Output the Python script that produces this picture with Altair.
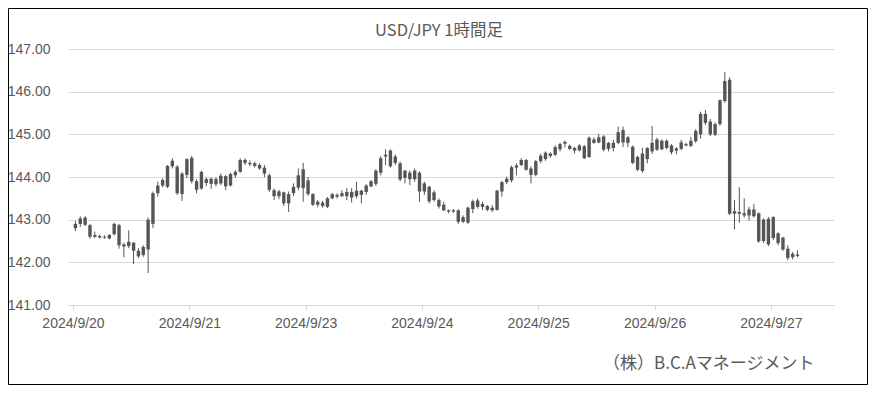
import altair as alt
import pandas as pd

title_text = "USD/JPY 1時間足"
footer_text = "（株）B.C.Aマネージメント"
date_labels = ["2024/9/20", "2024/9/21", "2024/9/23", "2024/9/24",
               "2024/9/25", "2024/9/26", "2024/9/27"]
bars_per_label = 24
n_slots = 156
y_ticks = [141, 142, 143, 144, 145, 146, 147]

opens = [
    142.80, 142.90, 143.05, 142.87, 142.60, 142.62, 142.58, 142.56, 142.66, 142.87,
    142.42, 142.38, 142.46, 142.27, 142.17, 142.30, 142.90, 143.62, 143.80, 143.77,
    144.25, 144.24, 143.60, 144.05, 144.45, 143.90, 143.73, 143.95, 143.84, 143.95,
    143.85, 144.02, 143.80, 144.04, 144.12, 144.40, 144.33, 144.32, 144.28, 144.22,
    144.04, 143.69, 143.55, 143.64, 143.38, 143.62, 143.75, 144.18, 143.92, 143.60,
    143.35, 143.40, 143.30, 143.50, 143.58, 143.55, 143.65, 143.52, 143.68, 143.58,
    143.65, 143.78, 143.84, 144.10, 144.48, 144.25, 144.48, 144.32, 143.98, 144.10,
    143.95, 144.10, 143.66, 143.77, 143.46, 143.46, 143.35, 143.22, 143.19, 143.22,
    142.95, 142.93, 143.25, 143.45, 143.30, 143.32, 143.22, 143.23, 143.66, 143.88,
    143.92, 144.22, 144.28, 144.40, 144.20, 144.05, 144.37, 144.42, 144.55, 144.52,
    144.65, 144.78, 144.73, 144.68, 144.62, 144.72, 144.47, 144.88, 144.81, 144.95,
    144.66, 144.80, 144.80, 145.10, 144.80, 144.71, 144.47, 144.14, 144.42, 144.60,
    144.88, 144.65, 144.85, 144.74, 144.62, 144.66, 144.77, 144.73, 144.84, 145.00,
    145.48, 145.30, 144.99, 145.24, 145.78, 146.28, 143.14, 143.18, 143.10, 143.10,
    143.24, 143.15, 142.50, 143.02, 142.57, 142.68, 142.58, 142.32, 142.12, 142.18,
]
highs = [
    142.97, 143.08, 143.08, 142.90, 142.72, 142.65, 142.63, 142.66, 142.93, 142.90,
    142.46, 142.75, 142.47, 142.33, 142.40, 143.05, 143.66, 143.89, 143.97, 144.28,
    144.44, 144.28, 144.12, 144.44, 144.49, 143.95, 144.15, 143.99, 143.98, 143.99,
    144.08, 144.04, 144.10, 144.16, 144.44, 144.44, 144.39, 144.36, 144.32, 144.28,
    144.08, 143.73, 143.70, 143.66, 143.66, 143.85, 144.20, 144.33, 144.00, 143.62,
    143.46, 143.44, 143.53, 143.62, 143.62, 143.69, 143.74, 143.74, 143.89, 143.70,
    143.83, 143.93, 144.18, 144.49, 144.65, 144.65, 144.53, 144.36, 144.16, 144.15,
    144.20, 144.13, 143.89, 143.79, 143.69, 143.50, 143.42, 143.24, 143.25, 143.24,
    143.10, 143.31, 143.47, 143.50, 143.42, 143.34, 143.34, 143.70, 143.91, 144.01,
    144.27, 144.32, 144.44, 144.42, 144.25, 144.40, 144.55, 144.60, 144.58, 144.74,
    144.80, 144.86, 144.76, 144.71, 144.77, 144.75, 144.95, 144.93, 145.01, 144.98,
    144.82, 144.87, 145.18, 145.18, 144.96, 144.74, 144.50, 144.69, 144.70, 145.20,
    144.92, 144.88, 144.88, 144.77, 144.70, 144.87, 144.80, 144.94, 145.12, 145.53,
    145.57, 145.36, 145.28, 145.82, 146.46, 146.34, 143.46, 143.76, 143.50, 143.30,
    143.37, 143.17, 143.03, 143.06, 143.08, 142.70, 142.60, 142.40, 142.24, 142.28,
]
lows = [
    142.73, 142.83, 142.85, 142.55, 142.57, 142.56, 142.55, 142.54, 142.63, 142.32,
    142.12, 142.33, 141.96, 142.10, 142.13, 141.75, 142.80, 143.54, 143.76, 143.74,
    144.20, 143.58, 143.44, 143.97, 143.85, 143.62, 143.70, 143.78, 143.72, 143.78,
    143.81, 143.69, 143.78, 143.98, 144.10, 144.28, 144.25, 144.22, 144.17, 144.00,
    143.65, 143.46, 143.48, 143.32, 143.18, 143.55, 143.69, 143.42, 143.56, 143.32,
    143.29, 143.28, 143.27, 143.48, 143.50, 143.53, 143.46, 143.40, 143.50, 143.38,
    143.58, 143.76, 143.79, 144.04, 144.28, 144.22, 144.28, 143.90, 143.85, 143.81,
    143.89, 143.42, 143.58, 143.38, 143.42, 143.26, 143.20, 143.15, 143.16, 142.90,
    142.92, 142.90, 143.15, 143.26, 143.22, 143.20, 143.18, 143.21, 143.54, 143.83,
    143.87, 144.04, 144.26, 144.15, 143.85, 144.02, 144.32, 144.38, 144.45, 144.49,
    144.60, 144.69, 144.63, 144.55, 144.60, 144.42, 144.45, 144.78, 144.79, 144.60,
    144.60, 144.60, 144.77, 144.70, 144.70, 144.30, 144.14, 144.10, 144.32, 144.54,
    144.61, 144.63, 144.65, 144.53, 144.53, 144.63, 144.72, 144.70, 144.80, 144.90,
    145.22, 144.96, 144.96, 145.20, 145.74, 143.11, 142.77, 142.93, 143.05, 142.98,
    143.05, 142.46, 142.45, 142.38, 142.52, 142.40, 142.27, 142.05, 142.07, 142.12,
]
closes = [
    142.90, 143.03, 142.88, 142.60, 142.64, 142.58, 142.60, 142.64, 142.90, 142.40,
    142.37, 142.48, 142.27, 142.14, 142.36, 143.00, 143.62, 143.80, 143.93, 144.26,
    144.38, 143.62, 144.08, 144.42, 143.90, 143.70, 144.12, 143.86, 143.96, 143.83,
    144.03, 143.78, 144.07, 144.12, 144.40, 144.33, 144.30, 144.26, 144.20, 144.08,
    143.70, 143.55, 143.66, 143.38, 143.60, 143.77, 144.04, 143.74, 143.60, 143.35,
    143.42, 143.32, 143.50, 143.60, 143.54, 143.62, 143.55, 143.65, 143.55, 143.68,
    143.80, 143.90, 144.15, 144.44, 144.52, 144.62, 144.33, 143.94, 144.15, 143.95,
    144.15, 143.66, 143.85, 143.43, 143.64, 143.31, 143.22, 143.19, 143.22, 142.95,
    143.06, 143.28, 143.43, 143.30, 143.37, 143.23, 143.28, 143.68, 143.88, 143.96,
    144.23, 144.27, 144.40, 144.17, 144.05, 144.37, 144.50, 144.57, 144.49, 144.70,
    144.77, 144.82, 144.66, 144.62, 144.74, 144.44, 144.92, 144.80, 144.93, 144.64,
    144.80, 144.68, 145.05, 144.81, 144.93, 144.33, 144.17, 144.55, 144.68, 144.80,
    144.64, 144.85, 144.68, 144.58, 144.67, 144.81, 144.74, 144.85, 145.08, 145.48,
    145.27, 145.00, 145.24, 145.80, 146.25, 143.14, 143.20, 143.14, 143.15, 143.24,
    143.08, 142.49, 143.00, 142.42, 143.06, 142.45, 142.30, 142.10, 142.20, 142.15,
]

df = pd.DataFrame({
    "i": list(range(len(opens))),
    "open": opens,
    "high": highs,
    "low": lows,
    "close": closes,
})

candle_color = "#555555"
text_color = "#595959"
grid_color = "#d9d9d9"
font = "Liberation Sans"
cjk_font = "Noto Sans CJK JP"

label_array = "[" + ",".join("'" + d + "'" for d in date_labels) + "]"

x_enc = alt.X(
    "xc:Q",
    scale=alt.Scale(domain=[0, n_slots], nice=False, zero=False),
    axis=alt.Axis(
        values=[k * bars_per_label for k in range(len(date_labels))],
        labelExpr=label_array + "[round(datum.value / " + str(bars_per_label) + ")]",
        grid=False,
        domain=True,
        domainColor=grid_color,
        ticks=True,
        tickColor=grid_color,
        tickSize=5,
        labelPadding=6,
        labelFontSize=14,
        labelColor=text_color,
        labelFont=font,
        title=footer_text,
        titleFont=cjk_font,
        titleFontSize=17,
        titleFontWeight="normal",
        titleColor=text_color,
        titleAlign="right",
        titleAnchor="end",
        titleBaseline="middle",
        titleX=746,
        titleY=58,
    ),
)

y_scale = alt.Scale(domain=[141, 147], nice=False, zero=False)
y_axis = alt.Axis(
    values=y_ticks,
    format=".2f",
    grid=True,
    gridColor=grid_color,
    domain=False,
    ticks=False,
    labelPadding=18,
    labelFontSize=14,
    labelColor=text_color,
    labelFont=font,
    title=None,
)

base = alt.Chart(df).transform_calculate(xc="datum.i + 0.5").encode(x=x_enc)

wicks = base.mark_rule(color=candle_color, strokeWidth=1).encode(
    y=alt.Y("low:Q", scale=y_scale, axis=y_axis),
    y2="high:Q",
)

bodies = base.mark_bar(size=3.4, color=candle_color).encode(
    y=alt.Y("open:Q", scale=y_scale, axis=y_axis),
    y2="close:Q",
)

deco = alt.Chart(pd.DataFrame({"t": [title_text]}))

title_mark = deco.mark_text(
    font=cjk_font, fontSize=16.5, color=text_color, align="center", baseline="middle"
).encode(text="t:N", x=alt.value(371), y=alt.value(-18))

frame = deco.mark_rect(
    filled=False, stroke="#000000", strokeWidth=1
).encode(
    x=alt.value(-59.5), x2=alt.value(799.5),
    y=alt.value(-40.5), y2=alt.value(335.5),
)

chart = alt.layer(wicks, bodies, title_mark, frame).properties(
    width=766,
    height=256,
    padding={"left": 60, "top": 41, "right": 34, "bottom": 80},
    autosize=alt.AutoSizeParams(type="none"),
).configure(background="white").configure_view(stroke="transparent")

chart.save("out.html", embed_options={"renderer": "svg", "actions": False})
